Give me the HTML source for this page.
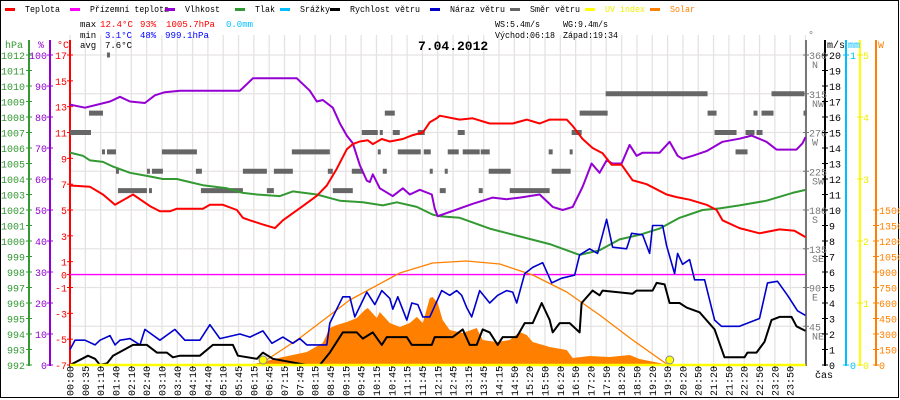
<!DOCTYPE html>
<html><head><meta charset="utf-8">
<style>
html,body{margin:0;padding:0;background:#fff;}
#wrap{position:relative;width:900px;height:400px;overflow:hidden;}
svg text{font-family:"Liberation Mono","DejaVu Sans Mono",monospace;font-size:10px;}
#stats text{font-size:9px;}
</style></head>
<body>
<div id="wrap">
<svg id="chart" width="900" height="400" viewBox="0 0 900 400" xmlns="http://www.w3.org/2000/svg">
<rect x="0.5" y="0.5" width="898" height="397" fill="#fff" stroke="#000"/>
<g id="grid"></g>
<g id="legend"></g>
<g id="stats">
<text x="80" y="27" fill="#000">max</text>
<text x="100" y="27" fill="#f00" textLength="33" lengthAdjust="spacingAndGlyphs">12.4°C</text>
<text x="140" y="27" fill="#f00">93%</text>
<text x="166" y="27" fill="#f00" textLength="49" lengthAdjust="spacingAndGlyphs">1005.7hPa</text>
<text x="226" y="27" fill="#00bfff" textLength="27" lengthAdjust="spacingAndGlyphs">0.0mm</text>
<text x="80" y="38" fill="#000">min</text>
<text x="105" y="38" fill="#00f" textLength="27" lengthAdjust="spacingAndGlyphs">3.1°C</text>
<text x="140" y="38" fill="#00f">48%</text>
<text x="165" y="38" fill="#00f" textLength="44" lengthAdjust="spacingAndGlyphs">999.1hPa</text>
<text x="80" y="48" fill="#000">avg</text>
<text x="105" y="48" fill="#000" textLength="27" lengthAdjust="spacingAndGlyphs">7.6°C</text>
<text x="495" y="27" fill="#000" textLength="45" lengthAdjust="spacingAndGlyphs">WS:5.4m/s</text>
<text x="563" y="27" fill="#000" textLength="45" lengthAdjust="spacingAndGlyphs">WG:9.4m/s</text>
<text x="495" y="38" fill="#000" textLength="60" lengthAdjust="spacingAndGlyphs">Východ:06:18</text>
<text x="563" y="38" fill="#000" textLength="55" lengthAdjust="spacingAndGlyphs">Západ:19:34</text>
<text x="418" y="50" fill="#000" style="font-size:13px;font-weight:bold">7.04.2012</text>
</g>
<g id="axes"></g>
<g id="series"></g>
</svg>
</div>
<script>
const timeLabels = ["00:00","00:35","01:10","01:40","02:10","02:40","03:10","03:40","04:10","04:40","05:10","05:45","06:15","06:45","07:15","07:45","08:15","08:45","09:15","09:45","10:15","10:45","11:15","11:45","12:15","12:45","13:15","13:45","14:15","14:50","15:20","15:50","16:20","16:50","17:20","17:50","18:20","18:50","19:20","19:50","20:20","20:50","21:20","21:50","22:20","22:50","23:20","23:50"];
const hpaTicks = [992,993,994,995,996,997,998,999,1000,1001,1002,1003,1004,1005,1006,1007,1008,1009,1010,1011,1012];
const pctTicks = [0,10,20,30,40,50,60,70,80,90,100];
const tempTicks = [-7,-5,-3,-1,0,1,3,5,7,9,11,13,15,17];
const dirTicks = [[45,"NE"],[90,"E"],[135,"SE"],[180,"S"],[225,"SW"],[270,"W"],[315,"NW"],[360,"N"]];
const msTicks = [0,1,2,3,4,5,6,7,8,9,10,11,12,13,14,15,16,17,18,19,20];
const uvTicks = [0,1,2,3,4,5];
const wTicks = [0,150,300,450,600,750,900,1050,1200,1350,1500];

function H(px){return (px-70)/30.667;}
const tempX = [70,90,103,115,133,150,160,170,177,203,210,223,237,243,250,262,275,283,303,317,327,337,347,353,360,368,373,382,390,403,413,423,430,437,440,460,473,490,513,527,540,550,567,573,583,593,603,612,622,633,647,667,677,690,707,717,723,740,760,780,795,806];
const tempV = [6.9,6.8,6.2,5.4,6.2,5.3,4.9,4.9,5.1,5.1,5.4,5.4,5.0,4.4,4.2,3.9,3.6,4.2,5.3,6.1,6.9,8.2,9.7,10.1,10.3,10.4,10.1,10.5,10.3,10.5,10.8,11.0,11.8,12.1,12.3,12.0,12.1,11.7,11.7,12.0,11.7,12.0,12.0,11.5,10.5,9.8,9.4,8.5,8.5,7.3,7.0,6.2,6.0,5.8,5.4,5.0,4.2,3.6,3.2,3.5,3.4,2.9];
const humX = [70,85,110,120,130,145,155,165,180,200,240,245,253,297,310,317,323,333,340,347,353,360,367,370,373,380,393,403,410,420,432,435,438,460,473,493,507,520,540,553,563,573,583,592,600,607,613,622,630,637,643,660,670,678,683,693,707,723,740,752,767,777,797,803,806];
const humV = [84,83,85,86.5,85,84.5,87,88,88.5,88.5,88.5,90,92.5,92.5,88.5,85,85.5,83,78,74,71.5,64.5,59.5,59,61.5,57,54.5,57,55,56.5,55,50.5,48,50.5,52,54,53.5,54,55,51,50,51,57.5,65,62,66,65,65,71,67.5,68.5,68.5,72,67.5,66.5,67.5,69,72,73,74,72,69.5,69.5,71.5,73.5];
const presX = [70,83,90,103,113,130,147,163,177,190,203,227,243,257,280,293,317,340,363,383,397,417,433,440,460,490,520,550,580,600,620,640,660,680,703,720,740,767,793,806];
const presV = [1005.7,1005.5,1005.2,1005.1,1004.8,1004.4,1004.2,1004.0,1004.0,1003.8,1003.6,1003.4,1003.1,1003.0,1002.9,1003.2,1003.0,1002.6,1002.5,1002.3,1002.5,1002.2,1001.7,1001.6,1001.5,1000.8,1000.3,999.8,999.1,999.4,1000.1,1000.4,1000.8,1001.5,1002.0,1002.1,1002.3,1002.6,1003.1,1003.3];
const speedX = [70,82,88,95,100,107,113,133,147,157,167,173,180,200,213,233,238,257,263,273,307,320,330,343,357,363,373,382,387,407,412,432,435,453,463,470,477,483,490,498,503,517,525,533,542,550,553,560,570,580,582,593,600,603,633,637,653,657,665,670,680,687,700,715,725,745,748,757,765,772,780,792,797,806];
const speedV = [0,0.4,0.6,0.4,0,0.1,0.6,1.3,1.3,0.8,0.8,0.5,0.6,0.6,1.3,1.3,0.6,0.4,0.8,0.4,0,0,0.8,2.1,2.1,1.7,2.1,1.3,1.8,1.8,1.3,1.3,1.8,1.8,2.3,1.3,1.3,2.3,2.1,1.3,1.8,1.8,2.7,2.7,4.0,2.9,2.1,2.7,2.7,2.1,4.0,4.8,4.5,4.8,4.6,4.8,4.8,5.3,5.2,4.0,4.0,3.7,3.4,2.3,0.5,0.5,0.8,0.8,1.5,2.9,3.1,3.1,2.5,2.2];
const gustX = [70,75,85,95,100,110,115,120,130,140,145,160,175,185,200,210,220,240,250,263,272,283,293,300,307,327,330,343,350,355,367,375,382,390,393,398,407,412,418,423,430,442,450,457,462,467,472,480,490,498,507,513,517,525,533,543,552,562,575,580,590,598,607,613,627,632,643,650,653,663,667,675,678,683,690,695,705,715,722,740,760,768,778,788,798,806];
const gustV = [1.0,1.6,1.6,1.3,1.6,1.9,1.3,1.6,1.7,1.3,2.3,1.6,2.3,1.6,1.6,2.6,1.7,2.0,1.8,2.2,1.4,1.8,1.4,1.7,1.3,1.3,2.7,4.4,4.4,3.1,4.7,3.9,4.8,4.3,3.6,4.4,2.9,4.0,3.9,3.1,3.1,4.8,4.5,4.8,4.5,3.7,3.1,4.8,4.0,4.5,4.8,4.7,4.0,5.9,6.3,6.6,5.3,5.6,5.8,7.1,7.5,7.2,9.4,7.6,7.5,8.5,8.4,7.2,9.0,9.0,7.7,5.9,7.2,6.5,6.8,5.5,5.5,2.9,2.5,2.5,3.0,5.3,5.4,4.5,3.5,3.2];
const solarX = [250,283,307,323,330,337,347,357,365,368,377,380,390,400,410,417,423,430,433,438,443,450,463,477,483,497,510,520,527,533,550,567,573,590,610,630,640,660,667];
const solarV = [0,77,126,213,358,387,416,455,532,552,455,513,406,368,406,465,406,648,658,600,435,339,310,358,242,223,242,319,290,223,174,145,68,87,77,97,58,19,0];
const sunX = [259,300,350,400,433,467,500,533,567,600,633,667];
const sunV = [0,261,629,890,987,1006,977,871,706,484,242,10];
const sunEvents = [6.3,19.57];
const dirStart = [107,89,385,70,362,380,393,418,102,107,162,292,378,398,424,116,147,152,196,243,274,328,352,383,430,118,149,201,267,333,606,772,580,708,754,762,804,458,572,715,746,757,448,463,481,549,570,736,445,489,552,440,479,510];
const dirEnd   = [110,103,395,91,378,383,400,425,105,116,197,330,381,421,431,119,150,163,202,267,293,333,363,387,433,147,152,243,274,353,708,805,608,717,758,774,807,465,582,737,755,763,459,480,490,553,573,748,448,511,571,446,483,550];
const dirV     = [360,292.5,292.5,270,270,270,270,270,247.5,247.5,247.5,247.5,247.5,247.5,247.5,225,225,225,225,225,225,225,225,225,225,202.5,202.5,202.5,202.5,202.5,315,315,292.5,292.5,292.5,292.5,292.5,270,270,270,270,270,247.5,247.5,247.5,247.5,247.5,247.5,225,225,225,202.5,202.5,202.5];

const X0=70, X1=805.5, Y0=55, Y1=365;
const xH = h => X0 + h*(X1-X0)/24;
const xP = px => xH(H(px));
const yT = t => Y0 + (17-t)*(Y1-Y0)/24;
const yPct = p => Y0 + (100-p)*(Y1-Y0)/100;
const yHpa = p => Y0 + (1012-p)*(Y1-Y0)/20;
const yMs = v => Y0 + (20-v)*(Y1-Y0)/20;
const yDeg = d => Y0 + (360-d)*(Y1-Y0)/360;
const yW = w => Y1 - w*(Y1-210)/1500;
const yUV = u => Y1 - u*(Y1-Y0)/5;

const NS="http://www.w3.org/2000/svg";
function mk(tag, attrs, parent){const e=document.createElementNS(NS,tag);for(const k in attrs)e.setAttribute(k,attrs[k]);parent.appendChild(e);return e;}
const grid=document.getElementById('grid'), axes=document.getElementById('axes'), ser=document.getElementById('series'), leg=document.getElementById('legend');

for(let i=0;i<=48;i++){
  const x=X0+i*(X1-X0)/48;
  const l=mk('line',{x1:x,x2:x,y1:Y0-20,y2:Y1,stroke:'#e6e2e2','stroke-width':1.3},grid);
  
  
}
for(let k=0;k<=8;k++){
  const y=Y0+k*(Y1-Y0)/8;
  const l=mk('line',{x1:X0,x2:X1,y1:y,y2:y,stroke:'#e6e2e2','stroke-width':1.3},grid);
  
  
}
const legItems=[["Teplota","#f00",5,35],["Přízemní teplota","#f0f",70,79],["Vlhkost","#9400d3",165,35],["Tlak","#339933",235,20],["Srážky","#00bfff",280,30],["Rychlost větru","#000",330,70],["Náraz větru","#00c",430,55],["Směr větru","#666",510,50],["UV index","#ff0",585,40],["Solar","#ff8000",650,25]];
legItems.forEach(it=>{
  const g=mk('g',{},leg);
  
  
  mk('rect',{x:it[2],y:8,width:10,height:3,fill:it[1]},g);
  const t=mk('text',{x:it[2]+20,y:12,fill:(it[0]==="UV index"?"#ee0":(it[0]==="Solar"?"#ff8000":"#000")),textLength:it[3],lengthAdjust:'spacingAndGlyphs',style:'font-size:9px'},g);
  t.textContent=it[0];
});
function vline(x,col,y0,name){const l=mk('line',{x1:x,x2:x,y1:y0,y2:Y1+1,stroke:col,'stroke-width':2},axes);}
vline(29,'#339933',40,'hpa-axis');
vline(50,'#9400d3',40,'humidity-axis');
vline(70,'#f00',40,'temp-axis');
vline(806,'#777',40,'direction-axis');
vline(825,'#000',40,'wind-axis');
vline(846,'#00bfff',40,'rain-axis');
vline(860,'#ff0',40,'uv-axis');
vline(876,'#ff8000',40,'solar-axis');
function txt(x,y,s,col,anchor,name){const t=mk('text',{x:x,y:y,fill:col,'text-anchor':anchor||'start'},axes);t.textContent=s;return t;}
txt(5,48,'hPa','#339933','start','hpa-unit');
txt(38,48,'%','#9400d3','start','humidity-unit');
txt(57,48,'°C','#f00','start','temp-unit');
txt(808,38,'°','#777','start','direction-unit');
txt(827,48,'m/s','#000','start','wind-unit');
txt(848,48,'mm','#00bfff','start','rain-unit');
txt(878,48,'W','#ff8000','start','solar-unit');
txt(815,378,'čas','#000','start','time-axis-title');
hpaTicks.forEach(v=>{const y=yHpa(v);mk('line',{x1:26,x2:32,y1:y,y2:y,stroke:'#339933'},axes);txt(25,y+4,String(v),'#339933','end','hpa-tick-label');});
pctTicks.forEach(v=>{const y=yPct(v);mk('line',{x1:47,x2:53,y1:y,y2:y,stroke:'#9400d3'},axes);txt(47,y+4,String(v),'#9400d3','end','humidity-tick-label');});
tempTicks.forEach(v=>{const y=yT(v);mk('line',{x1:67,x2:73,y1:y,y2:y,stroke:'#f00'},axes);txt(67,y+4,String(v),'#f00','end','temp-tick-label');});
dirTicks.forEach(d=>{const y=yDeg(d[0]);mk('line',{x1:803,x2:809,y1:y,y2:y,stroke:'#777'},axes);txt(809,y+4,String(d[0]),'#777','start','direction-tick-label');txt(812,y+13,d[1],'#777','start','direction-tick-label');});
msTicks.forEach(v=>{const y=yMs(v);mk('line',{x1:822,x2:828,y1:y,y2:y,stroke:'#000'},axes);txt(829,y+4,String(v),'#000','start','wind-tick-label');});
mk('line',{x1:843,x2:849,y1:Y0,y2:Y0,stroke:'#00bfff'},axes);txt(850,Y0+4,'1','#00bfff','start','rain-tick-label');
mk('line',{x1:843,x2:849,y1:Y1,y2:Y1,stroke:'#00bfff'},axes);txt(850,Y1+4,'0','#00bfff','start','rain-tick-label');
uvTicks.forEach(v=>{const y=yUV(v);mk('line',{x1:857,x2:863,y1:y,y2:y,stroke:'#ee0'},axes);txt(863,y+4,String(v),'#ee0','start','uv-tick-label');});
wTicks.forEach(v=>{const y=yW(v);mk('line',{x1:873,x2:879,y1:y,y2:y,stroke:'#ff8000'},axes);txt(879,y+4,String(v),'#ff8000','start','solar-tick-label');});
timeLabels.forEach((s,i)=>{
  const x=X0+i*(X1-X0)/48;
  mk('line',{x1:x,x2:x,y1:Y1,y2:Y1+3,stroke:'#000'},axes);
  const t=mk('text',{x:0,y:0,fill:'#000',transform:`translate(${x+3.5},${396}) rotate(-90)`},axes);
  t.textContent=s;
  
  
});

let d='M'+xP(solarX[0])+','+Y1;
solarX.forEach((px,i)=>{d+=' L'+xP(px).toFixed(1)+','+yW(solarV[i]).toFixed(1);});
d+=' L'+xP(solarX[solarX.length-1])+','+Y1+' Z';
const sf=mk('path',{d:d,fill:'#ff8000',stroke:'none'},ser);


dirStart.forEach((s,i)=>{
  const r=mk('rect',{x:xP(s),y:yDeg(dirV[i])-2.5,width:Math.max(3,xP(dirEnd[i])-xP(s)),height:5,fill:'#666'},ser);
  
  
});
function line(xs,vs,ys,col,w,name){
  const p=xs.map((px,i)=>xP(px).toFixed(1)+','+ys(vs[i]).toFixed(1)).join(' ');
  const e=mk('polyline',{points:p,fill:'none',stroke:col,'stroke-width':w,'stroke-linejoin':'round'},ser);
  
  
}
const zl=mk('line',{x1:X0,x2:X1,y1:yT(0),y2:yT(0),stroke:'#f0f','stroke-width':1.3},ser);


line(sunX,sunV,yW,'#ff8000',1.3,'theoretical-solar-line');
line(presX,presV,yHpa,'#339933',2,'pressure-line');
line(humX,humV,yPct,'#9400d3',2,'humidity-line');
line(tempX,tempV,yT,'#f00',2,'temperature-line');
line(gustX,gustV,yMs,'#0000cc',1.6,'wind-gust-line');
line(speedX,speedV,yMs,'#000',2,'wind-speed-line');
const uv=mk('line',{x1:X0,x2:X1,y1:Y1,y2:Y1,stroke:'#ff0','stroke-width':2.5},ser);


sunEvents.forEach(h=>{
  const c=mk('circle',{cx:xH(h),cy:Y1-5,r:4,fill:'#ff0',stroke:'#888','stroke-width':1},ser);
  
  
});
</script>
</body></html>
